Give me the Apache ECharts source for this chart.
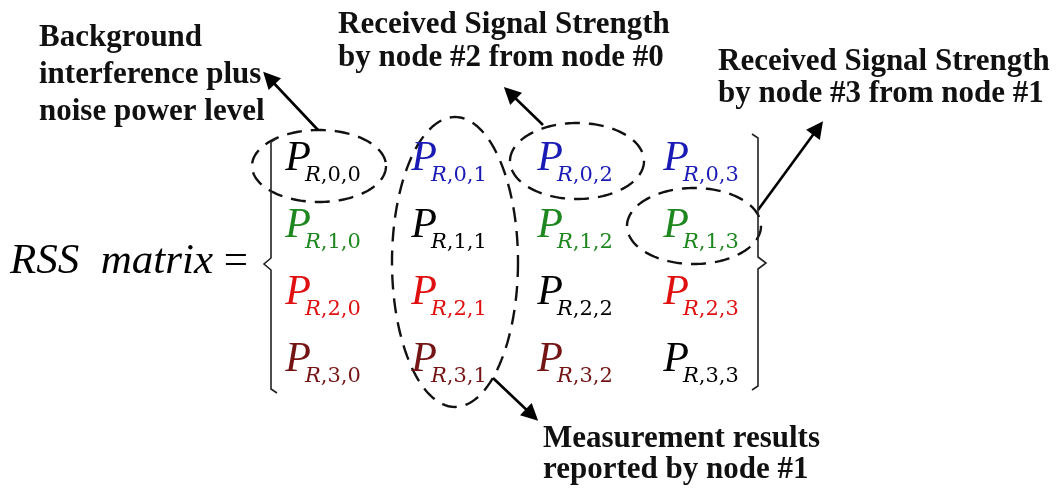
<!DOCTYPE html>
<html><head><meta charset="utf-8">
<script src="https://cdn.jsdelivr.net/npm/echarts@6/dist/echarts.min.js"></script>
<style>html,body{margin:0;padding:0;background:#fff;overflow:hidden}#c{width:1059px;height:490px}</style>
</head><body><div id="c"></div>
<script>
// ---- data ----
const nodes = ['0', '1', '2', '3'];               // receiver rows / transmitter columns
const equationText = ['RSS  matrix', ' ='];

const annotationTexts = [
  'Background\ninterference plus\nnoise power level',
  'Received Signal Strength\nby node #2 from node #0',
  'Received Signal Strength\nby node #3 from node #1',
  'Measurement results\nreported by node #1'
];
const annotationAnchors = [[39, 75], [338, 41], [718, 78], [543, 454]];
const equationAnchor = [10, 262];

const ellipseCenters = [[319, 166], [455, 262], [577, 161], [694, 226]];
const ellipseRadii = [[67, 36], [63, 145], [67, 38], [67, 38]];

const arrowFrom = [[318, 130], [543, 125], [758, 210], [493, 378]];
const arrowTo = [[269, 78], [510, 93], [818, 128], [532, 415]];

const leftBrace = [[277, 138], [271, 142], [271, 258], [264, 264], [271, 270], [271, 389], [277, 393]];
const rightBrace = [[752, 134], [758, 138], [758, 257], [766, 263], [758, 269], [758, 386], [752, 390]];

// ---- styles ----
const rowColors = ['#1a1ab4', '#1f871f', '#e01010', '#741414'];
const diagColor = '#000000';
const annotationLineHeights = [37, 33, 32, 31];

const cells = [];
nodes.forEach((ri, i) => nodes.forEach((cj, j) => {
  cells.push({ value: [j, i], row: ri, col: cj, color: i === j ? diagColor : rowColors[i] });
}));

const chart = echarts.init(document.getElementById('c'), null, { renderer: 'canvas' });
const solid = { opacity: 1 };

chart.setOption({
  animation: false,
  backgroundColor: '#fff',
  grid: [
    { left: 0, right: 0, top: 0, bottom: 0 },
    { left: 235, width: 504, top: 125.5, height: 268 }
  ],
  xAxis: [
    { type: 'value', min: 0, max: 1059, show: false, gridIndex: 0 },
    { type: 'category', data: nodes, show: false, gridIndex: 1 }
  ],
  yAxis: [
    { type: 'value', min: 0, max: 490, inverse: true, show: false, gridIndex: 0 },
    { type: 'category', data: nodes, inverse: true, show: false, gridIndex: 1 }
  ],
  series: [
    // matrix P symbols
    {
      type: 'scatter', xAxisIndex: 1, yAxisIndex: 1, symbolSize: 0, silent: true, itemStyle: solid,
      data: cells.map(c => ({ value: c.value, label: { color: c.color } })),
      label: {
        show: true, position: 'inside', formatter: 'P', opacity: 1,
        fontFamily: 'Liberation Serif', fontStyle: 'italic', fontSize: 42,
        align: 'center', verticalAlign: 'middle'
      }
    },
    // subscripts
    {
      type: 'scatter', xAxisIndex: 1, yAxisIndex: 1, symbolSize: 0, silent: true, itemStyle: solid,
      data: cells.map(c => ({
        value: c.value, name: c.row + ',' + c.col,
        label: { rich: { r: { color: c.color }, d: { color: c.color } } }
      })),
      label: {
        show: true, position: 'inside', offset: [7, 17], opacity: 1,
        align: 'left', verticalAlign: 'middle',
        formatter: p => '{r|R}{d|,' + p.name + '}',
        rich: {
          r: { fontFamily: 'DejaVu Serif', fontStyle: 'italic', fontSize: 21 },
          d: { fontFamily: 'DejaVu Serif', fontSize: 21 }
        }
      }
    },
    // dashed ellipses
    {
      type: 'custom', xAxisIndex: 0, yAxisIndex: 0, silent: true,
      data: ellipseCenters.map((c, k) => [c[0], c[1], ellipseRadii[k][0], ellipseRadii[k][1]]),
      renderItem: (params, api) => {
        const c = api.coord([api.value(0), api.value(1)]);
        const s = api.size([api.value(2), api.value(3)]);
        const pts = [];
        for (let k = 0; k < 160; k++) {
          const t = k / 160 * Math.PI * 2;
          pts.push([c[0] + s[0] * Math.cos(t), c[1] + s[1] * Math.sin(t)]);
        }
        return { type: 'polygon', shape: { points: pts },
          style: { fill: 'none', stroke: '#111', lineWidth: 2.4, lineDash: [15, 9] } };
      }
    },
    // arrows
    {
      type: 'lines', coordinateSystem: 'cartesian2d', xAxisIndex: 0, yAxisIndex: 0, silent: true,
      symbol: ['none', 'triangle'], symbolSize: [14, 17],
      lineStyle: { color: '#000', width: 2.6, opacity: 1 },
      data: arrowFrom.map((f, k) => ({ coords: [f, arrowTo[k]] }))
    },
    // braces
    {
      type: 'lines', coordinateSystem: 'cartesian2d', xAxisIndex: 0, yAxisIndex: 0, silent: true,
      polyline: true, symbol: 'none',
      lineStyle: { color: '#222', width: 1.6, opacity: 1 },
      data: [{ coords: leftBrace }, { coords: rightBrace }]
    },
    // annotation texts
    {
      type: 'scatter', xAxisIndex: 0, yAxisIndex: 0, symbolSize: 0, silent: true, itemStyle: solid,
      data: annotationTexts.map((t, k) => ({
        value: annotationAnchors[k], name: t,
        label: { lineHeight: annotationLineHeights[k] }
      })),
      label: {
        show: true, position: 'inside', align: 'left', verticalAlign: 'middle', opacity: 1,
        formatter: p => p.name,
        fontFamily: 'Liberation Serif', fontWeight: 'bold', fontSize: 31, color: '#111'
      }
    },
    // equation text
    {
      type: 'scatter', xAxisIndex: 0, yAxisIndex: 0, symbolSize: 0, silent: true, itemStyle: solid,
      data: [{ value: equationAnchor, name: 'eq' }],
      label: {
        show: true, position: 'inside', align: 'left', verticalAlign: 'middle', opacity: 1,
        formatter: () => '{i|' + equationText[0] + '}{n|' + equationText[1] + '}',
        rich: {
          i: { fontFamily: 'Liberation Serif', fontStyle: 'italic', fontSize: 43, color: '#000' },
          n: { fontFamily: 'Liberation Serif', fontSize: 43, color: '#000' }
        }
      }
    }
  ]
});
</script></body></html>
